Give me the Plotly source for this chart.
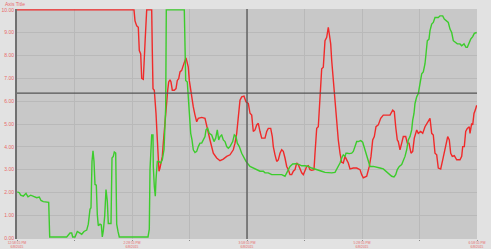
import plotly.graph_objects as go

# x axis is expressed in sample positions; tick labels give the clock time
tick_pos = [0, 57.5, 115, 172.5, 230, 287.5, 345, 402.5, 460]
tick_labels = ["12:58:55 PM<br>6/8/2015", "", "2:28:55 PM<br>6/8/2015", "",
               "3:58:55 PM<br>6/8/2015", "", "5:28:55 PM<br>6/8/2015", "",
               "6:58:55 PM<br>6/8/2015"]
y_ticks = [0, 1, 2, 3, 4, 5, 6, 7, 8, 9, 10]
cursor_x = 230
cursor_y = 6.35

red_time = [
    0, 117, 118, 119.7, 121.3, 122.3, 123.7, 124.7, 126.3, 127.3,
    128.3, 129.7, 134.7, 135.3, 136, 137.3, 138.3, 139, 140, 141,
    142, 143, 144.3, 145.3, 146.3, 147.7, 148.7, 149.7, 150.7, 151.7,
    153, 154, 155.3, 157.3, 159, 160.3, 161.7, 163, 164.7, 166.3,
    168, 169, 169.7, 171.3, 172.3, 173.7, 174.7, 176.3, 178, 179.7,
    181.3, 184.7, 188, 189.7, 191.3, 193, 196.3, 199.7, 203, 206.3,
    209.7, 213, 216.3, 218, 219.7, 221.3, 223, 224.7, 227, 229,
    231.3, 233, 234.7, 236.3, 238, 239.7, 241.3, 243, 244.7, 248,
    249.7, 251.3, 253.7, 255.3, 256.3, 258, 259.7, 261.3, 263, 264.7,
    266.3, 268, 269.7, 271.3, 273, 274.7, 276.3, 278, 279.7, 281.3,
    283, 284.7, 286.3, 288, 289.7, 291.3, 293, 294.7, 297, 298,
    299.7, 301.3, 303, 304.7, 306.3, 308, 309.7, 311.3, 312.3, 313.7,
    314.7, 316.3, 318, 319.7, 321.3, 323, 324.7, 326.3, 328, 329.7,
    331.3, 333, 336.3, 339.7, 343, 344.7, 346.3, 349.7, 352.3, 354,
    355.7, 357.3, 359, 361.3, 363.7, 366.3, 373, 375.7, 377.3, 378.7,
    380.3, 381.3, 383, 384.7, 386.3, 388.7, 390.3, 392, 394, 395.7,
    397.3, 399.7, 401.3, 403.7, 405.7, 408, 409.7, 411.3, 413, 414.7,
    416.3, 418, 419.7, 421.3, 423.7, 425.7, 427, 429, 430.7, 432.3,
    433.7, 435.3, 437.3, 439.7, 443, 444.7, 445.7, 447.3, 448.7, 450.3,
    452.3, 453, 454.7, 455.7, 457, 458.3, 459.7,
]
red_value = [
    10, 10, 9.52, 9.30, 9.24, 8.22, 8.07, 7.00, 6.96, 8.22,
    8.80, 10, 10, 8.22, 6.55, 6.48, 6.04, 5.47, 4.59, 3.58,
    2.93, 3.07, 3.43, 3.58, 4.16, 5.03, 5.46, 6.19, 6.48, 6.84,
    6.94, 6.84, 6.48, 6.48, 6.55, 6.91, 6.99, 7.28, 7.35, 7.57,
    7.86, 7.90, 7.78, 7.49, 6.91, 6.48, 6.04, 5.75, 5.39, 5.10,
    5.25, 5.29, 5.25, 4.88, 4.59, 4.30, 3.72, 3.51, 3.39, 3.46,
    3.58, 3.65, 3.87, 4.16, 4.59, 5.32, 6.04, 6.19, 6.22, 5.97,
    5.90, 5.47, 5.39, 4.67, 4.74, 4.96, 5.03, 4.67, 4.38, 4.38,
    4.67, 4.81, 4.81, 4.45, 4.01, 3.65, 3.36, 3.43, 3.72, 3.87,
    3.80, 3.51, 3.14, 3.00, 2.78, 2.78, 2.93, 3.00, 3.29, 3.22,
    3.00, 2.86, 2.78, 2.93, 3.14, 3.17, 3.00, 2.97, 3.00, 3.72,
    4.81, 4.88, 6.19, 7.42, 7.49, 8.65, 8.80, 9.24, 8.94, 8.51,
    7.78, 6.91, 6.04, 4.88, 4.30, 3.72, 3.32, 3.29, 3.58, 3.43,
    3.29, 3.03, 3.07, 3.07, 3.00, 2.78, 2.64, 2.71, 3.14, 3.58,
    4.30, 4.45, 4.88, 4.96, 5.25, 5.39, 5.39, 5.61, 5.54, 4.88,
    4.30, 4.23, 3.87, 4.16, 4.45, 4.45, 4.16, 4.16, 3.72, 3.80,
    4.38, 4.74, 4.59, 4.67, 4.59, 4.88, 5.03, 5.17, 5.25, 4.59,
    4.52, 3.72, 3.65, 3.07, 3.03, 3.43, 3.72, 4.23, 4.45, 4.30,
    3.72, 3.58, 3.61, 3.43, 3.43, 3.58, 4.01, 4.01, 4.67, 4.81,
    4.88, 4.59, 5.03, 4.96, 5.46, 5.61, 5.82,
]

green_time = [
    0.3, 2.3, 3.7, 6.3, 9, 11, 13.7, 16.3, 19.7, 22.3,
    24, 26.3, 29.7, 31.7, 32.7, 36, 39, 43, 46, 49.7,
    53, 54.7, 55.7, 58, 60.3, 62.3, 64.7, 67, 69.7, 71.3,
    73, 74, 75, 76, 77, 78, 79.3, 80.3, 81.3, 83,
    84.3, 85.3, 86.3, 87.7, 89, 90.3, 91.3, 94, 95, 96.3,
    97.3, 98.7, 99.7, 101, 102.3, 131, 132.3, 133, 134.7, 136,
    136.3, 137.3, 138.3, 139, 140.3, 142, 143.7, 145.3, 147, 148.7,
    149.3, 167.3, 168, 168.7, 170.3, 171.3, 173, 173.7, 175, 176.3,
    178, 179.7, 181.3, 183, 184.7, 186.3, 188, 189, 190.7, 192.3,
    194.7, 197, 198.7, 200.3, 201.7, 203, 204.7, 206.3, 208, 209.7,
    211.3, 213, 215.7, 217.3, 219, 220.3, 222.3, 224.7, 227, 229,
    233, 236.3, 239.7, 243, 246.3, 248, 251.3, 254.7, 258, 264.7,
    268, 269.7, 271.3, 273, 275.7, 279, 282.3, 284.7, 288, 291.3,
    294.7, 298, 301.3, 304.7, 308, 311.3, 314.7, 318, 319.7, 321.3,
    323, 324.7, 326.3, 328, 329, 330.3, 332.3, 334.7, 336.3, 338,
    339.7, 341.3, 343.7, 345.7, 348, 349.7, 351.3, 353, 356.3, 359.7,
    363, 366.3, 369, 371.3, 373, 374.7, 377, 378.7, 380.3, 382.3,
    384.7, 386.3, 388, 389.7, 391.3, 393, 394.7, 395.7, 397, 398,
    399.7, 401.3, 402.3, 403.7, 404.7, 406.3, 408, 409, 410.3, 412,
    413, 414.7, 416.3, 418, 421.3, 423, 425.7, 427.3, 429.7, 431.3,
    433, 434.7, 436.3, 438, 440.3, 443, 444.7, 447, 449, 450.3,
    452, 453.7, 455.7, 457.3, 459.7,
]
green_value = [
    2.03, 1.99, 1.88, 1.84, 1.96, 1.81, 1.88, 1.84, 1.77, 1.80,
    1.65, 1.60, 1.60, 1.57, 0.05, 0.05, 0.07, 0.05, 0.08, 0.05,
    0.22, 0.22, 0.05, 0.05, 0.29, 0.25, 0.17, 0.29, 0.35, 0.61,
    1.26, 1.33, 3.36, 3.83, 3.36, 2.35, 2.32, 1.04, 0.54, 0.61,
    0.58, 0.05, 0.32, 0.97, 2.13, 1.62, 0.64, 0.64, 3.51, 3.58,
    3.77, 3.72, 0.61, 0.29, 0.05, 0.05, 0.39, 3.00, 4.52, 4.52,
    3.14, 2.27, 1.84, 2.57, 3.36, 3.36, 3.29, 3.43, 3.87, 5.75,
    10, 10, 8.50, 6.91, 6.84, 6.04, 4.96, 4.59, 4.30, 3.87,
    3.75, 3.80, 4.01, 4.16, 4.16, 4.30, 4.45, 4.74, 4.81, 4.59,
    4.52, 4.23, 4.38, 4.74, 4.30, 4.45, 4.52, 4.30, 4.23, 4.01,
    3.94, 4.01, 4.23, 4.52, 4.45, 4.16, 4.01, 3.72, 3.51, 3.36,
    3.14, 3.07, 3.00, 2.93, 2.93, 2.86, 2.86, 2.78, 2.78, 2.78,
    2.71, 2.86, 3.00, 3.14, 3.25, 3.26, 3.22, 3.17, 3.17, 3.14,
    3.07, 3.03, 3.00, 2.93, 2.88, 2.86, 2.86, 2.88, 3.00, 3.14,
    3.29, 3.51, 3.65, 3.58, 3.72, 3.72, 3.70, 3.72, 3.80, 4.01,
    4.23, 4.23, 4.27, 4.20, 3.87, 3.58, 3.29, 3.14, 3.14, 3.12,
    3.07, 3.03, 2.93, 2.86, 2.78, 2.71, 2.68, 2.78, 3.00, 3.14,
    3.22, 3.36, 3.58, 3.87, 4.30, 4.45, 4.74, 5.17, 5.46, 5.90,
    6.19, 6.33, 6.62, 6.91, 7.20, 7.28, 7.64, 8.07, 8.65, 8.72,
    9.09, 9.38, 9.45, 9.67, 9.67, 9.74, 9.74, 9.60, 9.52, 9.45,
    9.16, 9.01, 8.65, 8.58, 8.51, 8.51, 8.43, 8.51, 8.36, 8.36,
    8.58, 8.72, 8.83, 8.97, 9.01,
]

assert len(red_time) == len(red_value)
assert len(green_time) == len(green_value)

LABEL_RED = "#e86a6a"

fig = go.Figure()
fig.add_trace(go.Scatter(x=red_time, y=red_value, mode="lines",
                         line=dict(color="#f02a2a", width=1.4), showlegend=False))
fig.add_trace(go.Scatter(x=green_time, y=green_value, mode="lines",
                         line=dict(color="#3ccc2c", width=1.4), showlegend=False))

fig.add_shape(type="line", xref="x", yref="paper", x0=cursor_x, x1=cursor_x, y0=0, y1=1,
              line=dict(color="#555555", width=1.3))
fig.add_shape(type="line", xref="paper", yref="y", x0=0, x1=1, y0=cursor_y, y1=cursor_y,
              line=dict(color="#555555", width=1.3))

fig.add_annotation(text="Axis Title", xref="paper", yref="paper", x=-0.031, y=1.0,
                   xanchor="left", yanchor="bottom", showarrow=False,
                   font=dict(size=5, color=LABEL_RED, family="Liberation Sans"))

fig.update_layout(
    width=491, height=249,
    margin=dict(l=17, r=14, t=9, b=10, autoexpand=False),
    paper_bgcolor="#e2e2e2",
    plot_bgcolor="#c8c8c8",
    font=dict(family="Liberation Sans", size=5, color=LABEL_RED),
    xaxis=dict(range=[0, 460], tickmode="array", tickvals=tick_pos, ticktext=tick_labels,
               showgrid=True, gridcolor="#b9b9b9", gridwidth=1, zeroline=False,
               ticks="outside", ticklen=1, tickcolor="#8a8a8a", automargin=False,
               ticklabelstandoff=-1,
               tickfont=dict(size=3.3, color=LABEL_RED), showline=False),
    yaxis=dict(range=[-0.04, 10.04], tickmode="array", tickvals=y_ticks,
               tickformat=".2f", showgrid=True, gridcolor="#b9b9b9", gridwidth=1,
               zeroline=False, showline=True, linecolor="#707070", linewidth=2,
               ticks="", automargin=False, tickfont=dict(size=5, color=LABEL_RED)),
)

fig.write_html("out.html")
